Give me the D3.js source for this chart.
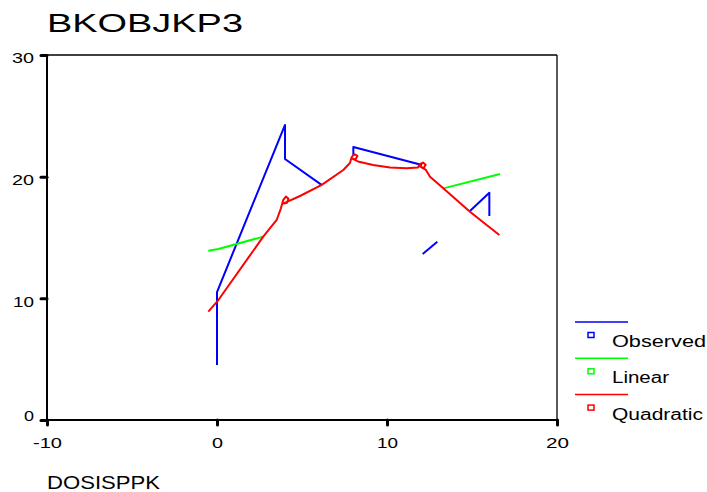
<!DOCTYPE html>
<html>
<head>
<meta charset="utf-8">
<script src="https://cdn.jsdelivr.net/npm/d3@7"></script>
<style>
  body { margin: 0; background: #fff; }
  text { font-family: "Liberation Sans", Arial, sans-serif; fill: #000; }
</style>
</head>
<body>
<script>
// ticks
var xTicks = [-10, 0, 10, 20]
var yTicks = [0, 10, 20, 30]
var xTickWidths = [29, 11, 21, 23]
var yTickWidths = [10, 21, 22, 22]

// observed (null = break in the line)
var observed = [
  [0, 4.52], [0, 10.52], [4.0, 24.25], [4.0, 21.45], [6.15, 19.32], null,
  [8.02, 21.7], [8.02, 22.44], [12.06, 20.96], null,
  [12.1, 13.64], [12.96, 14.65], null,
  [14.88, 17.18], [16.02, 18.68], [16.02, 16.77]
]

var linear = [
  [-0.51, 13.92], [0.08, 14.05], [2.72, 15.07], null,
  [13.31, 19.04], [16.65, 20.22]
]

var quadratic = [
  [-0.51, 8.9], [0.08, 9.86], [2.72, 15.07], [3.51, 16.44], [3.76, 17.4],
  [3.9, 18.1], [4.05, 18.36], [4.2, 18.2], [4.12, 17.86], [3.92, 17.8],
  [4.15, 17.95], [4.88, 18.41], [6.16, 19.32], [7.43, 20.55], [7.82, 21.12],
  [7.92, 21.6], [8.08, 21.85], [8.26, 21.7], [8.14, 21.42], [7.93, 21.5],
  [8.29, 21.25], [9.18, 20.96], [10.18, 20.75], [11.16, 20.69], [11.82, 20.75],
  [11.93, 21.02], [12.12, 21.16], [12.27, 20.97], [12.16, 20.72], [11.96, 20.82],
  [12.29, 20.55], [12.53, 20.0], [13.31, 19.04], [14.88, 17.12], [15.86, 16.03],
  [16.61, 15.2]
]

var legendNames = ["Observed", "Linear", "Quadratic"]
var legendColors = ["#0000ff", "#00ff00", "#ff0000"]
var legendWidths = [94, 57, 91]

var svg = d3.select("body").append("svg")
  .attr("width", 707)
  .attr("height", 492)

var x = d3.scaleLinear().domain([-10, 20]).range([47, 557])
var y = d3.scaleLinear().domain([0, 30]).range([420, 55])

// title
svg.append("text")
  .attr("x", 47)
  .attr("y", 32)
  .attr("font-size", 25)
  .attr("textLength", 196)
  .attr("lengthAdjust", "spacingAndGlyphs")
  .text("BKOBJKP3")

// frame: thin top / right
svg.append("line")
  .attr("x1", x(-10)).attr("x2", x(20))
  .attr("y1", y(30)).attr("y2", y(30))
  .attr("stroke", "#000").attr("stroke-width", 1.3)
svg.append("line")
  .attr("x1", x(20)).attr("x2", x(20))
  .attr("y1", y(30)).attr("y2", y(0))
  .attr("stroke", "#000").attr("stroke-width", 1.3)

// axes
var plain = function(d) { return String(d) }
var yAxis = svg.append("g")
  .attr("transform", "translate(" + x(-10) + ",0)")
  .call(d3.axisLeft(y).tickValues(yTicks).tickFormat(plain).tickSize(6).tickPadding(7))
var xAxis = svg.append("g")
  .attr("transform", "translate(0," + y(0) + ")")
  .call(d3.axisBottom(x).tickValues(xTicks).tickFormat(plain).tickSize(5).tickPadding(11.6))

;[xAxis, yAxis].forEach(function(g) {
  g.attr("font-family", null).attr("font-size", null)
  g.select(".domain").remove()
  g.selectAll(".tick line")
    .attr("stroke", "#000")
    .attr("stroke-width", 3)
    .attr("stroke-linecap", "round")
  g.selectAll(".tick text")
    .attr("font-size", 15.5)
    .attr("lengthAdjust", "spacingAndGlyphs")
})
xAxis.selectAll(".tick text")
  .attr("textLength", function(d, i) { return xTickWidths[i] })
yAxis.selectAll(".tick text")
  .attr("textLength", function(d, i) { return yTickWidths[i] })
  .attr("dy", function(d) { return d === 0 ? "0em" : "0.5em" })

// thick left / bottom frame
svg.append("line")
  .attr("x1", x(-10)).attr("x2", x(-10))
  .attr("y1", y(30)).attr("y2", y(0))
  .attr("stroke", "#000").attr("stroke-width", 2)
svg.append("line")
  .attr("x1", x(-10)).attr("x2", x(20))
  .attr("y1", y(0)).attr("y2", y(0))
  .attr("stroke", "#000").attr("stroke-width", 2)

// x axis title
svg.append("text")
  .attr("x", 47)
  .attr("y", 489)
  .attr("font-size", 19)
  .attr("textLength", 113)
  .attr("lengthAdjust", "spacingAndGlyphs")
  .text("DOSISPPK")

// series
var line = d3.line()
  .defined(function(d) { return d !== null })
  .x(function(d) { return x(d[0]) })
  .y(function(d) { return y(d[1]) })

;[observed, linear, quadratic].forEach(function(s, i) {
  svg.append("path")
    .datum(s)
    .attr("d", line)
    .attr("fill", "none")
    .attr("stroke", legendColors[i])
    .attr("stroke-width", 2)
    .attr("stroke-linejoin", "round")
})

// legend
var legend = svg.selectAll("g.legend")
  .data(legendNames)
  .enter().append("g")
    .attr("class", "legend")
    .attr("transform", function(d, i) {
      return "translate(0," + (i * 36.3) + ")"
    })

legend.append("line")
  .attr("x1", 575).attr("x2", 628)
  .attr("y1", 322).attr("y2", 322)
  .attr("stroke", function(d, i) { return legendColors[i] })
  .attr("stroke-width", 1.5)

legend.append("rect")
  .attr("x", 588).attr("y", 332.5)
  .attr("width", 6).attr("height", 5)
  .attr("fill", "none")
  .attr("stroke", function(d, i) { return legendColors[i] })
  .attr("stroke-width", 1.5)

legend.append("text")
  .attr("x", 612)
  .attr("y", 347)
  .attr("font-size", 16)
  .attr("textLength", function(d, i) { return legendWidths[i] })
  .attr("lengthAdjust", "spacingAndGlyphs")
  .text(function(d) { return d })
</script>
</body>
</html>
